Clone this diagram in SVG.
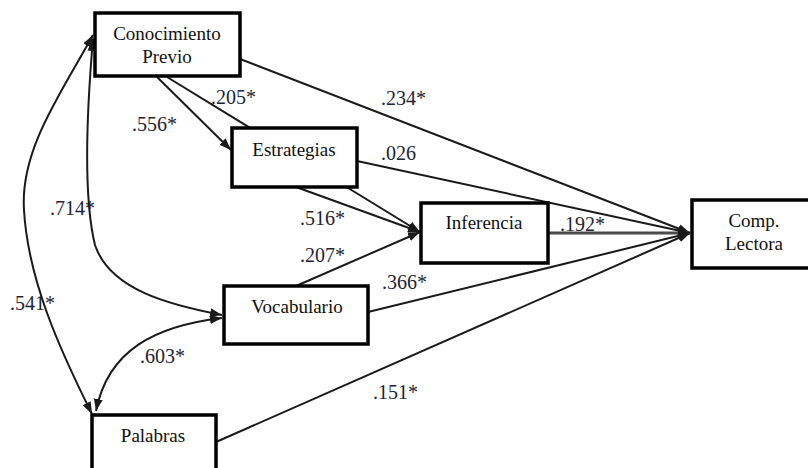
<svg xmlns="http://www.w3.org/2000/svg" width="808" height="468" viewBox="0 0 808 468">
<style>
.box{fill:#fff;stroke:#000;stroke-width:3.5}
.ln{fill:none;stroke:#1a1a1a;stroke-width:2}
.arr{marker-end:url(#ah)}
.dbl{marker-start:url(#ah);marker-end:url(#ah)}
text{font-family:'Liberation Serif','Times New Roman',Tinos,'DejaVu Serif','Noto Serif',serif}
</style>
<defs>
<marker id="ah" markerUnits="userSpaceOnUse" markerWidth="13" markerHeight="10" refX="12" refY="4.5" orient="auto-start-reverse" viewBox="0 0 13 10">
<path d="M0,0 L12,4.5 L0,9 z" fill="#1a1a1a"/>
</marker>
</defs>
<rect width="808" height="468" fill="#fff"/>
<g id="connectors">
<line class="ln arr" x1="240" y1="59" x2="690" y2="233"/>
<line class="ln arr" x1="157" y1="77" x2="231" y2="150"/>
<line class="ln arr" x1="167" y1="77" x2="420" y2="232"/>
<line class="ln arr" x1="296" y1="187" x2="420" y2="232"/>
<line class="ln arr" x1="357" y1="161" x2="690" y2="233"/>
<line class="ln arr" x1="296" y1="286" x2="420" y2="232"/>
<line class="arr" x1="548" y1="233" x2="690" y2="233" stroke="#4a4a4a" stroke-width="3"/>
<line class="ln arr" x1="368" y1="312" x2="690" y2="233"/>
<line class="ln arr" x1="216" y1="442" x2="690" y2="233"/>
<path class="ln dbl" d="M92,414 C60,350 28,280 24,210 C20,150 60,95 93,35"/>
<path class="ln dbl" d="M93,39 C86,120 84,200 95,245 C110,290 170,305 222,315"/>
<path class="ln dbl" d="M222,318 C155,326 108,350 96,411"/>
</g>
<g id="labels" font-size="20" fill="#1e2433">
<text x="211" y="104">.205*</text>
<text x="132" y="131">.556*</text>
<text x="381" y="105">.234*</text>
<text x="381" y="160">.026</text>
<text x="300" y="225">.516*</text>
<text x="300" y="262">.207*</text>
<text x="560" y="231">.192*</text>
<text x="382" y="289">.366*</text>
<text x="373" y="399">.151*</text>
<text x="50" y="215">.714*</text>
<text x="10" y="310">.541*</text>
<text x="140" y="363">.603*</text>
</g>
<g font-size="19" fill="#111" text-anchor="middle">
<g id="conocimiento">
<rect class="box" x="95" y="13" width="145" height="63"/>
<text x="167" y="40">Conocimiento</text>
<text x="167" y="63">Previo</text>
</g>
<g id="estrategias">
<rect class="box" x="232" y="128" width="125" height="59"/>
<text x="294" y="156">Estrategias</text>
</g>
<g id="inferencia">
<rect class="box" x="421" y="203" width="127" height="60"/>
<text x="484" y="229">Inferencia</text>
</g>
<g id="comp">
<rect class="box" x="692" y="200" width="126" height="68"/>
<text x="754" y="227">Comp.</text>
<text x="754" y="250">Lectora</text>
</g>
<g id="vocabulario">
<rect class="box" x="224" y="286" width="144" height="58"/>
<text x="297" y="313">Vocabulario</text>
</g>
<g id="palabras">
<rect class="box" x="92" y="415" width="124" height="62"/>
<text x="153" y="442">Palabras</text>
</g>
</g>
</svg>
